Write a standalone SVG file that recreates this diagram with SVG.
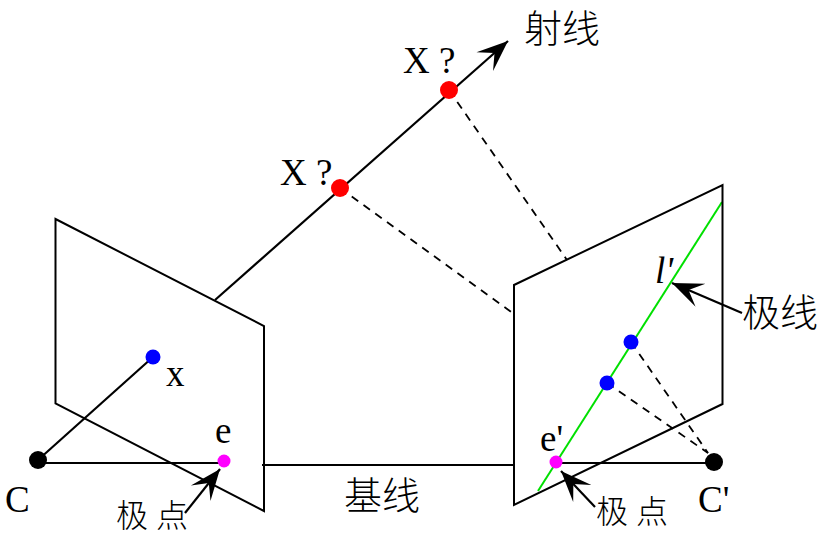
<svg xmlns="http://www.w3.org/2000/svg" width="825" height="534" viewBox="0 0 825 534">
<style>
.p{fill:none;stroke:#000;stroke-width:2}
.l{fill:none;stroke:#000;stroke-width:2.2}
.d{fill:none;stroke:#000;stroke-width:1.8;stroke-dasharray:8 6.5}
.a{marker-end:url(#arrow)}
text{font-family:"Liberation Serif","Noto Sans CJK SC",serif;fill:#000}
.t{font-size:37px}
.z{font-size:38px;font-weight:300}
.s{font-size:32px;font-weight:300}
</style>
<defs>
<marker id="arrow" markerUnits="userSpaceOnUse" markerWidth="36" markerHeight="32" refX="33" refY="16" orient="auto" overflow="visible">
<path d="M33 16L2 3.500L15 16L2 28.500Z" fill="#000"/>
</marker>
</defs>
<rect width="825" height="534" fill="#fff"/>
<g id="connectors">
<path class="l a" d="M215 300L508 41"/>
<path class="d" d="M449 90L567 260"/>
<path class="d" d="M340 188L514 314"/>
<path class="l" d="M38 460L153 357"/>
<path class="l" d="M38 463L224 463"/>
<path class="l" d="M262 465L514 465"/>
<path class="l" d="M556 463L714 463"/>
<path d="M538 491L722 202" fill="none" stroke="#00e000" stroke-width="2"/>
<path class="d" d="M631 342L708 453"/>
<path class="d" d="M607 383L708 453"/>
<path class="l a" d="M185 513L220 469"/>
<path class="l a" d="M595 507L561 471"/>
<path class="l a" d="M742 313L672 283"/>
</g>
<g id="plane-left"><path class="p" d="M55.500 219L264 326V511L55.500 403.500Z"/></g>
<g id="plane-right"><path class="p" d="M514 285L722.500 185V404L514 505Z"/></g>
<g id="X1"><circle cx="449" cy="90" r="9" fill="#f00"/><text class="t" x="403" y="73">X ?</text></g>
<g id="X2"><circle cx="340" cy="188" r="9" fill="#f00"/><text class="t" x="280" y="185">X ?</text></g>
<g id="ray-label"><text class="z" x="524" y="42">射线</text></g>
<g id="C"><circle cx="38" cy="460" r="9" fill="#000"/><text class="t" x="5" y="512">C</text></g>
<g id="x"><circle cx="153" cy="357" r="7.500" fill="#00f"/><text class="t" x="166" y="386">x</text></g>
<g id="e"><circle cx="224" cy="461" r="6.500" fill="#f0f"/><text class="t" x="215" y="443">e</text></g>
<g id="epipole-left"><text class="s" x="116" y="527">极 点</text></g>
<g id="baseline-label"><text class="z" x="344" y="509">基线</text></g>
<g id="Cprime"><circle cx="714" cy="462" r="9" fill="#000"/><text class="t" x="698" y="512">C'</text></g>
<g id="eprime"><circle cx="556" cy="462" r="6.500" fill="#f0f"/><text class="t" x="540" y="451">e'</text></g>
<g id="epipole-right"><text class="s" x="596" y="523">极 点</text></g>
<g id="b1"><circle cx="631" cy="342" r="7.500" fill="#00f"/></g>
<g id="b2"><circle cx="607" cy="383" r="7.500" fill="#00f"/></g>
<g id="lprime"><text class="t" x="655" y="283" font-style="italic">l'</text></g>
<g id="epipolar-label"><text class="z" x="742" y="326">极线</text></g>
</svg>
